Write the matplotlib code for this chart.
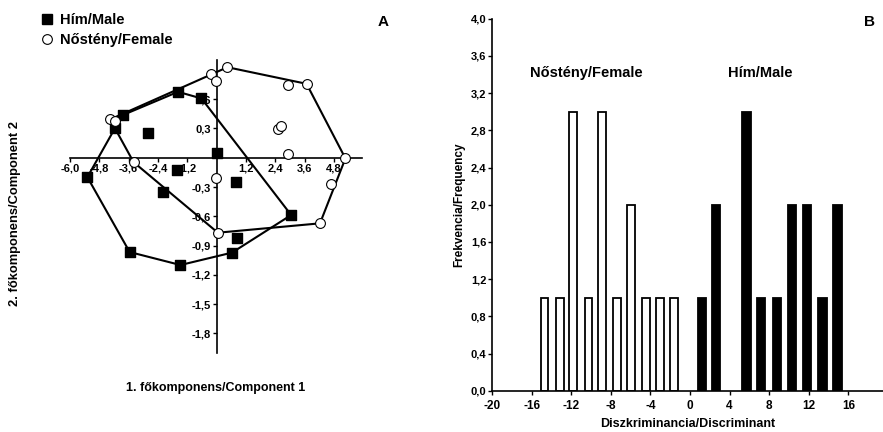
import matplotlib
matplotlib.use("Agg")
import matplotlib.pyplot as plt
from matplotlib.lines import Line2D
from matplotlib.ticker import FuncFormatter

plt.rcParams['font.family'] = ['Liberation Sans', 'DejaVu Sans']
plt.rcParams['font.weight'] = 'bold'
plt.rcParams['axes.labelweight'] = 'bold'
plt.rcParams['axes.unicode_minus'] = False

# PCA scores, component 1 / component 2
male_pc1 = [-1.58, -0.62, -3.85, -4.15, -2.81, 0.0, -5.29, -1.64, 0.81, -2.19, 3.05, 0.85, 0.63, -3.56, -1.48]
male_pc2 = [0.675, 0.607, 0.436, 0.307, 0.256, 0.047, -0.199, -0.13, -0.246, -0.352, -0.587, -0.826, -0.972, -0.966, -1.099]
female_pc1 = [0.44, -0.22, -0.04, 2.93, 3.68, -4.36, -4.15, 2.52, 2.63, 2.9, 5.27, -3.4, -0.04, 4.66, 4.23, 0.05]
female_pc2 = [0.927, 0.853, 0.79, 0.74, 0.757, 0.392, 0.375, 0.29, 0.33, 0.034, -0.007, -0.045, -0.205, -0.266, -0.672, -0.768]

# convex hull vertices (indices into the score lists)
male_hull = [6, 3, 2, 0, 1, 10, 12, 14, 13, 6]
female_hull = [5, 1, 0, 4, 10, 14, 15, 11, 5]

# discriminant score histogram
female_bins = [-14.7, -13.1, -11.8, -10.25, -8.85, -7.35, -5.95, -4.45, -3.05, -1.6]
female_freq = [1, 1, 3, 1, 3, 1, 2, 1, 1, 1]
male_bins = [1.2, 2.6, 5.7, 7.2, 8.8, 10.3, 11.8, 13.4, 14.9]
male_freq = [1, 2, 3, 1, 1, 2, 2, 1, 2]

comma = FuncFormatter(lambda v, p: f"{v:.1f}".replace('.', ','))

fig = plt.figure(figsize=(8.83, 4.32), dpi=100)

# ---- A: PCA scatter with hulls ----
ax = fig.add_axes([0.0793, 0.1829, 0.3307, 0.678])
ax.plot([male_pc1[i] for i in male_hull], [male_pc2[i] for i in male_hull],
        color='black', lw=1.5, zorder=2)
ax.plot([female_pc1[i] for i in female_hull], [female_pc2[i] for i in female_hull],
        color='black', lw=1.5, zorder=2)
ax.scatter(male_pc1, male_pc2, marker='s', s=55, color='black', zorder=4)
ax.scatter(female_pc1, female_pc2, marker='o', s=50, facecolor='white',
           edgecolor='black', linewidth=0.8, zorder=4)
ax.set_xlim(-6.0, 5.95)
ax.set_ylim(-2.0, 1.0)
for s in ['top', 'right']:
    ax.spines[s].set_visible(False)
ax.spines['left'].set_position(('data', 0))
ax.spines['bottom'].set_position(('data', 0))
ax.spines['left'].set_linewidth(1.2)
ax.spines['bottom'].set_linewidth(1.2)
ax.set_xticks([-6.0, -4.8, -3.6, -2.4, -1.2, 1.2, 2.4, 3.6, 4.8])
ax.set_yticks([0.6, 0.3, -0.3, -0.6, -0.9, -1.2, -1.5, -1.8])
ax.xaxis.set_major_formatter(comma)
ax.yaxis.set_major_formatter(comma)
ax.tick_params(direction='out', length=3, width=1, labelsize=8, pad=1)
for lab in ax.get_xticklabels() + ax.get_yticklabels():
    lab.set_fontweight('bold')
fig.text(0.244, 0.102, '1. főkomponens/Component 1', ha='center', va='center', fontsize=9)
fig.text(0.017, 0.505, '2. főkomponens/Component 2', ha='center', va='center',
         rotation=90, fontsize=9.3)
fig.text(0.434, 0.948, 'A', ha='center', va='center', fontsize=11)

handles = [Line2D([], [], marker='s', ls='none', color='black', markersize=6.5),
           Line2D([], [], marker='o', ls='none', markerfacecolor='white',
                  markeredgecolor='black', markeredgewidth=0.8, markersize=7)]
fig.legend(handles, ['Hím/Male', 'Nőstény/Female'], loc='upper left',
           bbox_to_anchor=(0.032, 1.0), frameon=False,
           handlelength=0.8, handletextpad=0.45, labelspacing=0.4,
           prop={'weight': 'bold', 'size': 10.5})

# ---- B: discriminant histogram ----
bx = fig.add_axes([0.5572, 0.0956, 0.4428, 0.861])
bx.bar(female_bins, female_freq, width=0.8, color='white', edgecolor='black', linewidth=1.3)
bx.bar(male_bins, male_freq, width=0.85, color='black', edgecolor='black', linewidth=1.3)
bx.set_xlim(-20, 19.5)
bx.set_ylim(0, 4.0)
for s in ['top', 'right']:
    bx.spines[s].set_visible(False)
bx.spines['left'].set_linewidth(1.2)
bx.spines['bottom'].set_linewidth(1.2)
bx.set_xticks(range(-20, 17, 4))
bx.set_yticks([i * 0.4 for i in range(11)])
bx.yaxis.set_major_formatter(comma)
bx.tick_params(direction='out', length=3, width=1, labelsize=8, pad=1)
bx.tick_params(axis='x', labelsize=8.5, pad=4)
for lab in bx.get_xticklabels() + bx.get_yticklabels():
    lab.set_fontweight('bold')
bx.text(-10.5, 3.42, 'Nőstény/Female', ha='center', va='center', fontsize=10.5)
bx.text(7.1, 3.42, 'Hím/Male', ha='center', va='center', fontsize=10.5)
bx.set_xlabel('Diszkriminancia/Discriminant', fontsize=9, fontweight='bold', labelpad=4)
bx.set_ylabel('Frekvencia/Frequency', fontsize=8.5, fontweight='bold', labelpad=4)
fig.text(0.985, 0.948, 'B', ha='center', va='center', fontsize=11)

fig.savefig('out.png', dpi=100)
